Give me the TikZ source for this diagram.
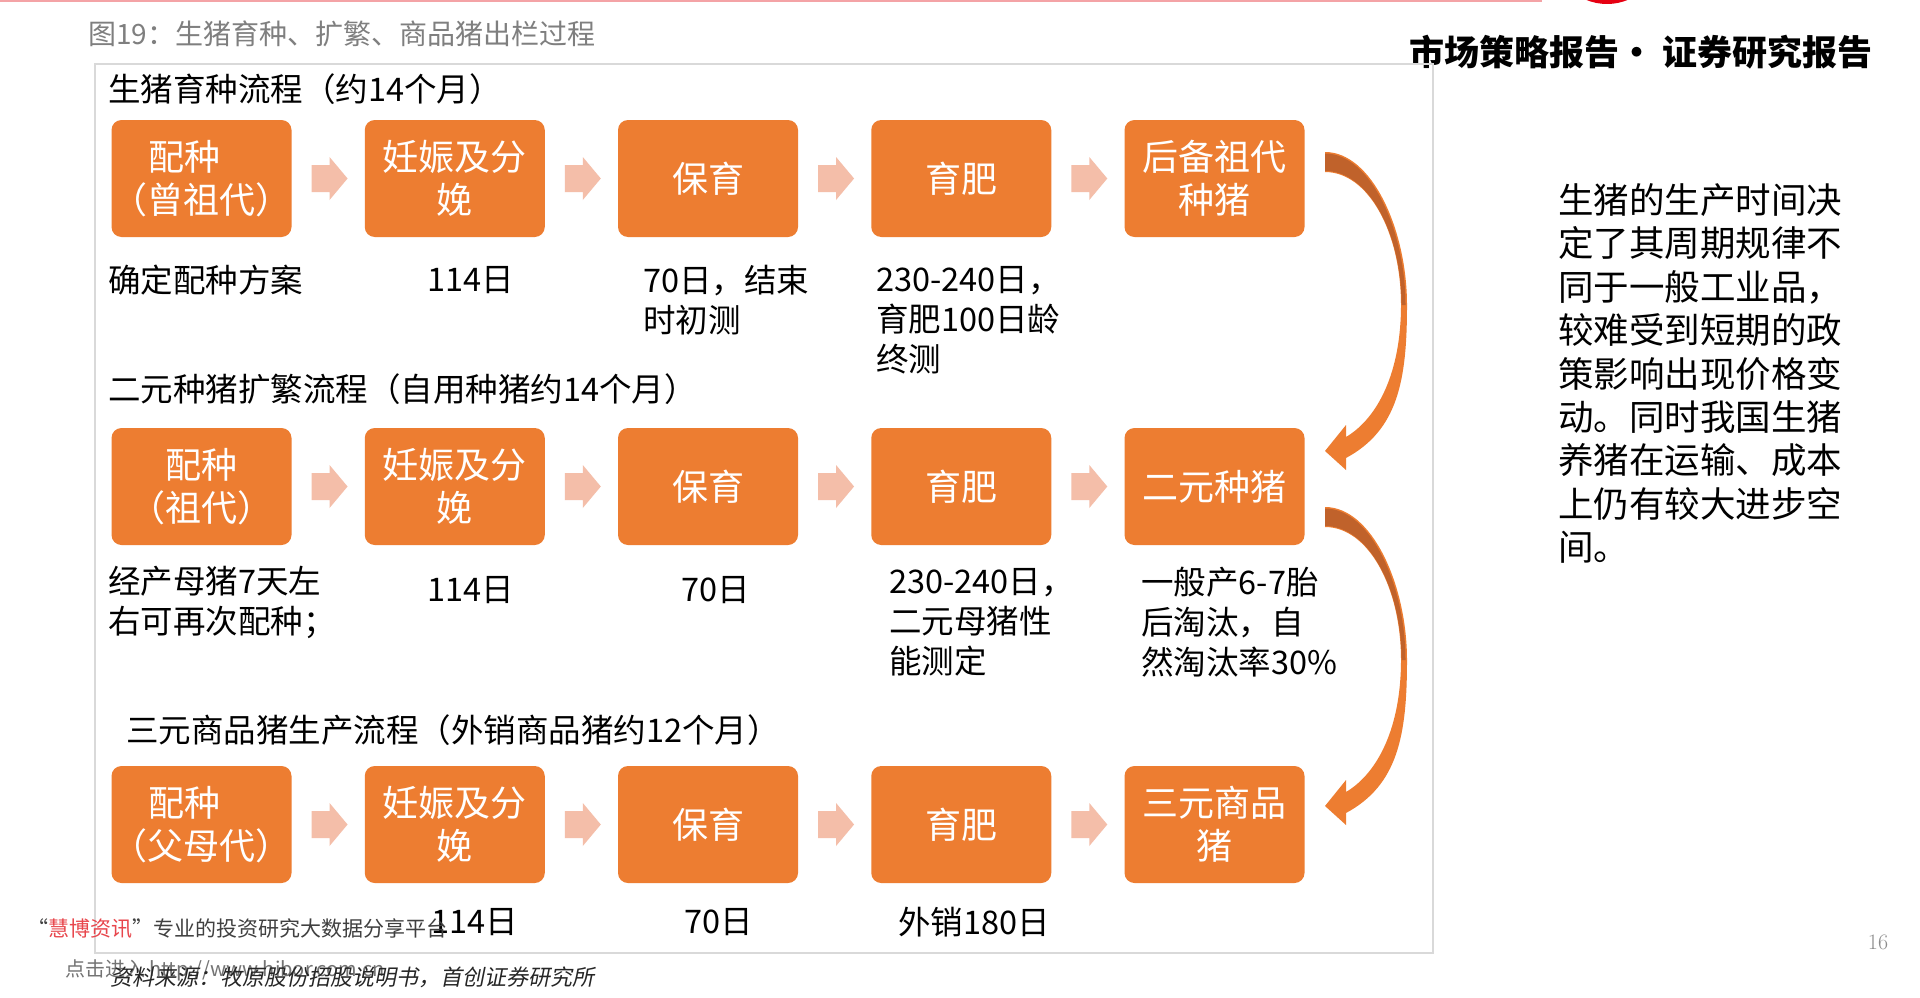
\documentclass[tikz,border=0pt]{standalone}
\usepackage{fontspec}
\usetikzlibrary{calc}
\newfontfamily\cjk{Noto Sans CJK SC}
\newfontfamily\cjkit[FakeSlant=0.2]{Noto Sans CJK SC}
\definecolor{boxorange}{HTML}{ED7D31}
\definecolor{darkorange}{HTML}{C0622B}
\definecolor{pinkarr}{HTML}{F4BEA9}
\definecolor{titlegray}{HTML}{7F7F7F}
\definecolor{framegray}{HTML}{D9D9D9}
\definecolor{topline}{HTML}{F4A3A6}
\definecolor{logored}{HTML}{E60012}
\definecolor{wmred}{HTML}{E8464C}
\definecolor{wmgray}{HTML}{404040}
\newcommand\blockarrow[2]{%
  \fill[pinkarr] let \p1=($(#1.east)+(20,0)$), \p2=($(#2.west)+(-17,0)$) in
    (\x1,\y1+13.5pt) -- (\x2-18pt,\y1+13.5pt) -- (\x2-18pt,\y1+21.5pt) -- (\x2,\y1)
    -- (\x2-18pt,\y1-21.5pt) -- (\x2-18pt,\y1-13.5pt) -- (\x1,\y1-13.5pt) -- cycle;}
\begin{document}
\begin{tikzpicture}[x=1pt,y=-1pt,
  box/.style={fill=boxorange, rounded corners=10pt, minimum width=180pt, minimum height=117pt,
    inner sep=0pt, text=white, align=center, font=\cjk\fontsize{36}{43}\selectfont},
  heading/.style={anchor=west, inner sep=0pt, font=\cjk\fontsize{32.5}{40}\selectfont},
  lbl/.style={anchor=west, inner sep=0pt, align=left, font=\cjk\fontsize{32.5}{40}\selectfont},
  curvedarr/.pic={
    \fill[boxorange] (1325,152) .. controls (1372,152) and (1407,230) .. (1407,305)
      .. controls (1407,380) and (1398,430) .. (1346,458)
      -- (1346,470) -- (1325,451) -- (1346,425) -- (1346,437)
      .. controls (1378,418) and (1401,372) .. (1401,305)
      .. controls (1401,232) and (1368,172) .. (1325,172) -- cycle;
    \fill[darkorange] (1325,153.5) .. controls (1371,153.5) and (1405.5,231) .. (1405.5,305)
      -- (1401.5,305) .. controls (1401.5,232) and (1368,171) .. (1325,171) -- cycle;
  },
]
\useasboundingbox (0,0) rectangle (1920,998);
\fill[white] (0,0) rectangle (1920,998);
% page decorations
\fill[topline] (0,0) rectangle (1542,2.5);
\fill[logored] (1607,-50.5) circle (54.5);
\node[anchor=west, inner sep=0pt, font=\cjk\fontsize{28}{30}\selectfont, text=titlegray] (title) at (88,34) {图19：生猪育种、扩繁、商品猪出栏过程};
\node[inner sep=0pt, font=\cjk\bfseries\fontsize{35}{40}\selectfont] (hdr) at (1641,52) {市场策略报告·\ 证券研究报告};
\draw[framegray, line width=1.5pt] (95,64) rectangle (1433,953);

% headings
\node[heading] (h1) at (108,89) {生猪育种流程（约14个月）};
\node[heading] (h2) at (108,389) {二元种猪扩繁流程（自用种猪约14个月）};
\node[heading] (h3) at (126,730) {三元商品猪生产流程（外销商品猪约12个月）};

% row 1
\node[box] (b11) at (201.5,178.5) {配种\makebox[34pt]{}\\（曾祖代）};
\node[box] (b12) at (454.75,178.5) {妊娠及分\\娩};
\node[box] (b13) at (708,178.5) {保育};
\node[box] (b14) at (961.25,178.5) {育肥};
\node[box] (b15) at (1214.5,178.5) {后备祖代\\种猪};
% row 2
\node[box] (b21) at (201.5,486.5) {配种\\（祖代）};
\node[box] (b22) at (454.75,486.5) {妊娠及分\\娩};
\node[box] (b23) at (708,486.5) {保育};
\node[box] (b24) at (961.25,486.5) {育肥};
\node[box] (b25) at (1214.5,486.5) {二元种猪};
% row 3
\node[box] (b31) at (201.5,824.5) {配种\makebox[34pt]{}\\（父母代）};
\node[box] (b32) at (454.75,824.5) {妊娠及分\\娩};
\node[box] (b33) at (708,824.5) {保育};
\node[box] (b34) at (961.25,824.5) {育肥};
\node[box] (b35) at (1214.5,824.5) {三元商品\\猪};

% straight block arrows
\blockarrow{b11}{b12}\blockarrow{b12}{b13}\blockarrow{b13}{b14}\blockarrow{b14}{b15}
\blockarrow{b21}{b22}\blockarrow{b22}{b23}\blockarrow{b23}{b24}\blockarrow{b24}{b25}
\blockarrow{b31}{b32}\blockarrow{b32}{b33}\blockarrow{b33}{b34}\blockarrow{b34}{b35}

% curved arrows between rows
\pic (c1) at (0,0) {curvedarr};
\pic (c2) at (0,355) {curvedarr};

% labels row 1
\node[lbl] (l11) at (108,280) {确定配种方案};
\node[lbl] (l12) at (427,280) {114日};
\node[lbl] (l13) at (643,300) {70日，结束\\时初测};
\node[lbl] (l14) at (876,320) {230-240日，\\育肥100日龄\\终测};
% labels row 2
\node[lbl] (l21) at (108,602) {经产母猪7天左\\右可再次配种；};
\node[lbl] (l22) at (427,590) {114日};
\node[lbl] (l23) at (681,590) {70日};
\node[lbl] (l24) at (889,622) {230-240日，\\二元母猪性\\能测定};
\node[lbl] (l25) at (1141,622) {一般产6-7胎\\后淘汰，自\\然淘汰率30\%};
% labels row 3
\node[lbl] (l32) at (431,922) {114日};
\node[lbl] (l33) at (684,922) {70日};
\node[lbl] (l34) at (898,922) {外销180日};

% right paragraph
\node[anchor=west, inner sep=0pt, align=left, font=\cjk\fontsize{35.5}{43.4}\selectfont] (para) at (1558,373.6)
 {生猪的生产时间决\\定了其周期规律不\\同于一般工业品，\\较难受到短期的政\\策影响出现价格变\\动。同时我国生猪\\养猪在运输、成本\\上仍有较大进步空\\间。};

% footer
\node[anchor=west, inner sep=0pt, font=\cjk\fontsize{21}{24}\selectfont, text=wmgray] (wm) at (27,929)
 {“\textcolor{wmred}{慧博资讯}”专业的投资研究大数据分享平台};
\node[anchor=west, inner sep=0pt, font=\cjk\fontsize{20}{24}\selectfont, text=black!55] (link) at (65,970) {点击进入 http://www.hibor.com.cn};
\node[anchor=west, inner sep=0pt, font=\cjkit\fontsize{22}{24}\selectfont, text=black!85] (src) at (110,977) {资料来源：牧原股份招股说明书，首创证券研究所};
\node[inner sep=0pt, font=\fontsize{22}{24}\selectfont, text=black!45] (pg) at (1878,942) {16};
\end{tikzpicture}
\end{document}
